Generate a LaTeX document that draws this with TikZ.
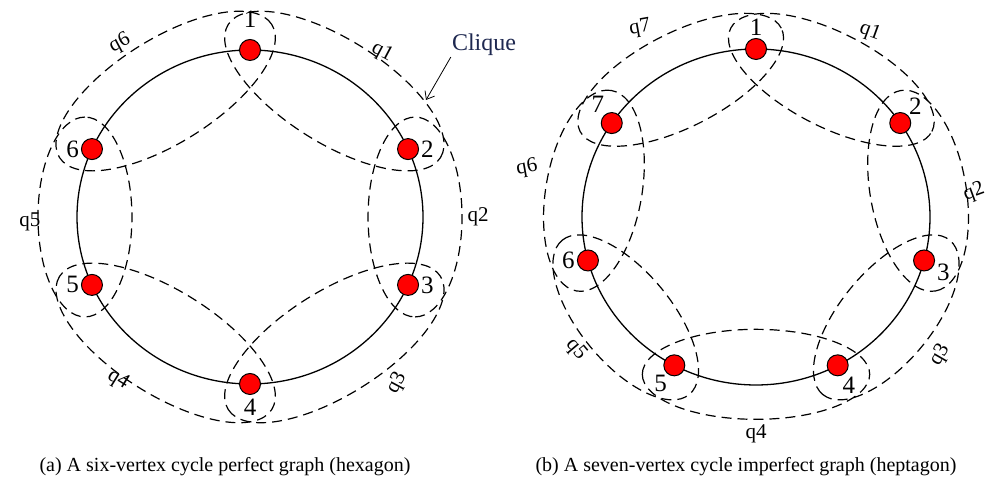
\documentclass[tikz,border=0pt]{standalone}
\usepackage{fontspec}
\setmainfont{Liberation Serif}
\usetikzlibrary{arrows.meta, calc}

\begin{document}
\begin{tikzpicture}[
    x=1pt, y=1pt,
    vertex/.style={
        circle,
        draw=black,
        fill=red,
        line width=1pt,
        minimum size=21pt,
        inner sep=0pt
    },
    every label/.style={font=\fontsize{25}{28}\selectfont, inner sep=1pt},
    cycle/.style={line width=1.3pt},
    clique/.style={line width=1.2pt, dash pattern=on 10pt off 6pt},
    qlabel/.style={font=\fontsize{21}{23}\selectfont, inner sep=0pt},
    caption/.style={font=\fontsize{20}{22}\selectfont, inner sep=0pt}
]
\useasboundingbox (0,0) rectangle (990,486);

% ------------------------
% (a) hexagon
% ------------------------
\coordinate (cA) at (250,269);
\draw[cycle] (cA) ellipse [x radius=173pt, y radius=167pt];

\node[vertex, label={[label distance=10pt]above:1}]  (a1) at ($(cA)+(90:173 and 167)$) {};
\node[vertex, label={[label distance=1pt]right:2}]   (a2) at ($(cA)+(24:173 and 167)$) {};
\node[vertex, label={[label distance=1pt]right:3}]   (a3) at ($(cA)+(-24:173 and 167)$) {};
\node[vertex, label={[label distance=3pt]below:4}]   (a4) at ($(cA)+(-90:173 and 167)$) {};
\node[vertex, label={[label distance=1pt]left:5}]    (a5) at ($(cA)+(-156:173 and 167)$) {};
\node[vertex, label={[label distance=1pt]left:6}]    (a6) at ($(cA)+(156:173 and 167)$) {};

% ------------------------
% (b) heptagon
% ------------------------
\coordinate (cB) at (756,269);
\draw[cycle] (cB) ellipse [x radius=174pt, y radius=168pt];

\node[vertex, label={[label distance=1pt]above:1}]   (b1) at ($(cB)+(90:174 and 168)$) {};
\node[vertex, label={[label distance=0pt]45:2}]      (b2) at ($(cB)+(34:174 and 168)$) {};
\node[vertex, label={[label distance=1pt]-10:3}]     (b3) at ($(cB)+(-15:174 and 168)$) {};
\node[vertex, label={[label distance=0pt]-70:4}]     (b4) at ($(cB)+(-62:174 and 168)$) {};
\node[vertex, label={[label distance=0pt]-125:5}]    (b5) at ($(cB)+(-118:174 and 168)$) {};
\node[vertex, label={[label distance=1pt]left:6}]    (b6) at ($(cB)+(195:174 and 168)$) {};
\node[vertex, label={[label distance=0pt]125:7}]     (b7) at ($(cB)+(146:174 and 168)$) {};

% ------------------------
% Cliques (one dashed ellipse per edge)
% ------------------------
\foreach \a/\b/\w/\s in {a1/a2/52/10, a2/a3/47/7, a3/a4/52/10, a4/a5/52/10, a5/a6/47/7, a6/a1/52/10,
                         b1/b2/47/7, b2/b3/48/6, b3/b4/46/7, b4/b5/45/9, b5/b6/46/7, b6/b7/48/6, b7/b1/47/7} {
  \draw[clique] let \p1=(\a), \p2=(\b),
      \n1={atan2(\y2-\y1,\x2-\x1)},
      \n2={veclen(\x2-\x1,\y2-\y1)/2+32pt} in
    ($(\a)!0.5!(\b)!\s pt!90:(\b)$) ellipse [x radius=\n2, y radius=\w pt, rotate=\n1];
}

% ------------------------
% Clique labels
% ------------------------
\node[qlabel, rotate=28]  (qa6) at (120,443) {q6};
\node[qlabel, rotate=-28] (qa1) at (382,434) {q1};
\node[qlabel]             (qa2) at (478,269) {q2};
\node[qlabel, rotate=62]  (qa3) at (397,103) {q3};
\node[qlabel, rotate=-32] (qa4) at (118,106) {q4};
\node[qlabel]             (qa5) at (30,264)  {q5};

\node[qlabel, rotate=10]  (qb7) at (640,458) {q7};
\node[qlabel, rotate=-20] (qb1) at (870,454) {q1};
\node[qlabel, rotate=20]  (qb2) at (974,294) {q2};
\node[qlabel, rotate=60]  (qb3) at (940,131) {q3};
\node[qlabel]             (qb4) at (756,52)  {q4};
\node[qlabel, rotate=-50] (qb5) at (576,136) {q5};
\node[qlabel, rotate=10]  (qb6) at (527,318) {q6};

% ------------------------
% Clique pointer
% ------------------------
\node[font=\fontsize{24}{26}\selectfont, text={rgb,255:red,30;green,40;blue,80}, inner sep=1pt] (cliq) at (484,441) {Clique};
\coordinate (cliqtip) at (426,386);
\draw[line width=0.8pt, -{Straight Barb[length=7pt, width=11pt]}] (cliq.south west) -- (cliqtip);

% ------------------------
% Captions
% ------------------------
\node[caption] (capA) at (225,19) {(a) A six-vertex cycle perfect graph (hexagon)};
\node[caption] (capB) at (746,19) {(b) A seven-vertex cycle imperfect graph (heptagon)};

\end{tikzpicture}
\end{document}
